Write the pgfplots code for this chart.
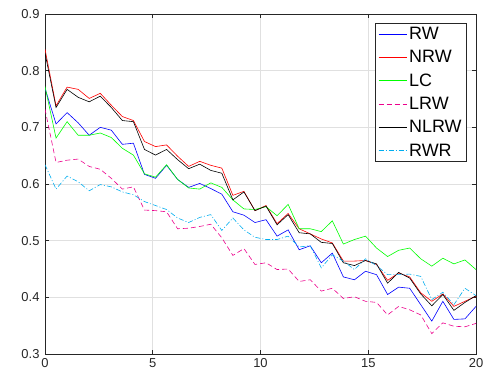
\documentclass[border=0pt]{standalone}
\usepackage{fontspec}
\setmainfont{Liberation Sans}
\usepackage{pgfplots}
\usepackage{pgfplotstable}
\pgfplotsset{compat=1.18}
\definecolor{axgray}{gray}{0.15}
\definecolor{gridgray}{gray}{0.88}
\definecolor{mgreen}{rgb}{0,1,0}

\pgfplotstableread{
x rw nrw lc lrw nlrw rwr
0.0000 0.769 0.838 0.772 0.732 0.831 0.634
0.5128 0.706 0.738 0.681 0.638 0.735 0.591
1.0256 0.726 0.771 0.710 0.642 0.767 0.614
1.5385 0.708 0.767 0.686 0.644 0.753 0.604
2.0513 0.686 0.751 0.686 0.631 0.745 0.588
2.5641 0.700 0.760 0.690 0.626 0.755 0.599
3.0769 0.695 0.739 0.682 0.610 0.735 0.595
3.5897 0.670 0.719 0.663 0.591 0.712 0.586
4.1026 0.672 0.712 0.651 0.595 0.710 0.581
4.6154 0.617 0.675 0.618 0.554 0.661 0.569
5.1282 0.610 0.666 0.612 0.553 0.651 0.562
5.6410 0.633 0.669 0.634 0.551 0.661 0.555
6.1538 0.608 0.649 0.608 0.521 0.643 0.540
6.6667 0.594 0.631 0.593 0.522 0.627 0.532
7.1795 0.601 0.640 0.591 0.525 0.635 0.541
7.6923 0.592 0.633 0.602 0.529 0.624 0.546
8.2051 0.582 0.628 0.594 0.505 0.619 0.518
8.7179 0.551 0.580 0.572 0.474 0.572 0.540
9.2308 0.545 0.587 0.556 0.486 0.586 0.519
9.7436 0.532 0.553 0.555 0.458 0.553 0.506
10.2564 0.537 0.562 0.560 0.461 0.561 0.502
10.7692 0.508 0.530 0.544 0.449 0.528 0.502
11.2821 0.519 0.548 0.564 0.450 0.546 0.508
11.7949 0.484 0.521 0.521 0.428 0.514 0.489
12.3077 0.491 0.512 0.521 0.431 0.512 0.491
12.8205 0.461 0.503 0.516 0.411 0.497 0.452
13.3333 0.478 0.496 0.535 0.416 0.495 0.475
13.8462 0.436 0.464 0.494 0.398 0.461 0.464
14.3590 0.431 0.464 0.502 0.401 0.456 0.449
14.8718 0.446 0.465 0.508 0.393 0.465 0.468
15.3846 0.440 0.458 0.487 0.391 0.459 0.456
15.8974 0.405 0.430 0.472 0.369 0.425 0.440
16.4103 0.418 0.443 0.483 0.384 0.444 0.440
16.9231 0.416 0.436 0.487 0.378 0.434 0.441
17.4359 0.387 0.408 0.468 0.369 0.406 0.437
17.9487 0.358 0.393 0.455 0.336 0.385 0.396
18.4615 0.393 0.406 0.469 0.355 0.405 0.409
18.9744 0.361 0.384 0.459 0.349 0.377 0.387
19.4872 0.362 0.393 0.466 0.348 0.391 0.416
20.0000 0.384 0.402 0.449 0.354 0.403 0.403
}\data

\begin{document}
\begin{tikzpicture}
\path[use as bounding box] (-45bp,-18bp) rectangle (438bp,354bp);
\begin{axis}[
  at={(0,0)}, anchor=south west,
  scale only axis, width=431bp, height=340bp,
  xmin=0, xmax=20, ymin=0.3, ymax=0.9,
  xtick={0,5,10,15,20},
  ytick={0.3,0.4,0.5,0.6,0.7,0.8,0.9},
  tick align=inside, major tick length=4bp,
  xmajorgrids, ymajorgrids,
  grid style={gridgray, line width=0.6bp},
  axis line style={axgray, line width=0.6bp},
  tick style={axgray, line width=0.6bp},
  tick label style={font=\fontsize{13}{15}\selectfont, text=axgray},
  yticklabel style={xshift=-2bp},
  xticklabel style={yshift=-1bp},
  /pgf/number format/assume math mode=true,
  legend style={at={(0.979,0.974)}, anchor=north east, draw=axgray,
    line width=0.6bp, font=\fontsize{18}{20}\selectfont,
    inner xsep=3bp, inner ysep=2bp, row sep=5.5bp, cells={anchor=west}},
  legend image code/.code={\draw[line width=0.9bp,#1] (0bp,0bp) -- (28bp,0bp);},
]
\addplot[draw=blue, line width=0.6bp] table[x=x,y=rw] {\data};
\addlegendentry{RW}
\addplot[draw=red, line width=0.6bp] table[x=x,y=nrw] {\data};
\addlegendentry{NRW}
\addplot[draw=mgreen, line width=0.6bp] table[x=x,y=lc] {\data};
\addlegendentry{LC}
\addplot[draw=magenta, line width=0.6bp, dash pattern=on 5bp off 3bp] table[x=x,y=lrw] {\data};
\addlegendentry{LRW}
\addplot[draw=black, line width=0.6bp] table[x=x,y=nlrw] {\data};
\addlegendentry{NLRW}
\addplot[draw=cyan, line width=0.6bp, dash pattern=on 5bp off 2bp on 1bp off 2bp] table[x=x,y=rwr] {\data};
\addlegendentry{RWR}
\end{axis}
\end{tikzpicture}
\end{document}
